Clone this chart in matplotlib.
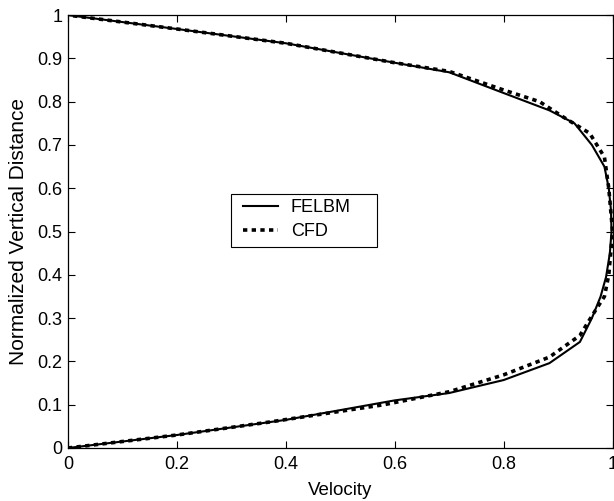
import numpy as np
import matplotlib.pyplot as plt
from matplotlib.patches import Rectangle

plt.rcParams['font.family'] = ['Liberation Sans', 'DejaVu Sans']

# FELBM profile (normalized vertical distance vs velocity)
y_felbm = [0.0, 0.03, 0.065, 0.11, 0.127, 0.157, 0.196, 0.245, 0.3, 0.35, 0.395,
           0.45, 0.5, 0.55, 0.6, 0.65, 0.7, 0.75, 0.78, 0.82, 0.868, 0.89, 0.935, 0.968, 1.0]
u_felbm = [0.0, 0.2, 0.4, 0.6, 0.7, 0.8, 0.884, 0.94, 0.962, 0.978, 0.988,
           0.995, 0.998, 0.997, 0.993, 0.985, 0.962, 0.93, 0.884, 0.8, 0.7, 0.6, 0.4, 0.2, 0.0]

# CFD profile
y_cfd = [0.0, 0.03, 0.06, 0.1, 0.13, 0.169, 0.21, 0.26, 0.307, 0.35, 0.4,
         0.5, 0.6, 0.672, 0.727, 0.765, 0.8, 0.827, 0.87, 0.89, 0.935, 0.968, 1.0]
u_cfd = [0.0, 0.2, 0.37, 0.58, 0.7, 0.8, 0.884, 0.94, 0.963, 0.985, 0.993,
         1.0, 0.993, 0.985, 0.958, 0.909, 0.866, 0.8, 0.7, 0.6, 0.4, 0.2, 0.0]

x_ticks = [0, 0.2, 0.4, 0.6, 0.8, 1]
y_ticks = [0, 0.1, 0.2, 0.3, 0.4, 0.5, 0.6, 0.7, 0.8, 0.9, 1]


def fmt(v):
    return '0' if v == 0 else ('1' if v == 1 else f'{v:g}')


def main():
    fig = plt.figure(figsize=(6.14, 5.01), dpi=100)
    ax = fig.add_axes([0.1107, 0.1058, 0.887, 0.864])

    ax.plot(u_felbm, y_felbm, color='black', lw=1.5, label='FELBM')
    ax.plot(u_cfd, y_cfd, color='black', lw=2.6, linestyle=(0, (1.2, 1.2)), label='CFD')

    ax.set_xlim(0, 1)
    ax.set_ylim(0, 1)
    ax.set_xticks(x_ticks)
    ax.set_xticklabels([fmt(v) for v in x_ticks])
    ax.set_yticks(y_ticks)
    ax.set_yticklabels([fmt(v) for v in y_ticks])
    ax.tick_params(direction='in', top=True, right=True, length=5, width=0.8,
                   labelsize=13, colors='black', pad=4)
    ax.tick_params(axis='x', pad=6)
    for s in ax.spines.values():
        s.set_linewidth(0.9)

    ax.set_xlabel('Velocity', fontsize=13.5, labelpad=6)
    ax.set_ylabel('Normalized Vertical Distance', fontsize=15, labelpad=7)

    # legend frame drawn separately, legend entries placed inside it
    ax.add_patch(Rectangle((0.299, 0.464), 0.268, 0.123, transform=ax.transAxes,
                           facecolor='white', edgecolor='black', lw=0.8, zorder=4))
    leg = ax.legend(loc='center left', bbox_to_anchor=(0.321, 0.527),
                    fontsize=13, frameon=False, handlelength=1.94,
                    handletextpad=0.72, borderaxespad=0, borderpad=0, labelspacing=0.4)
    leg.set_zorder(5)

    fig.savefig('out.png', dpi=100)
    plt.close(fig)


if __name__ == "__main__":
    main()
